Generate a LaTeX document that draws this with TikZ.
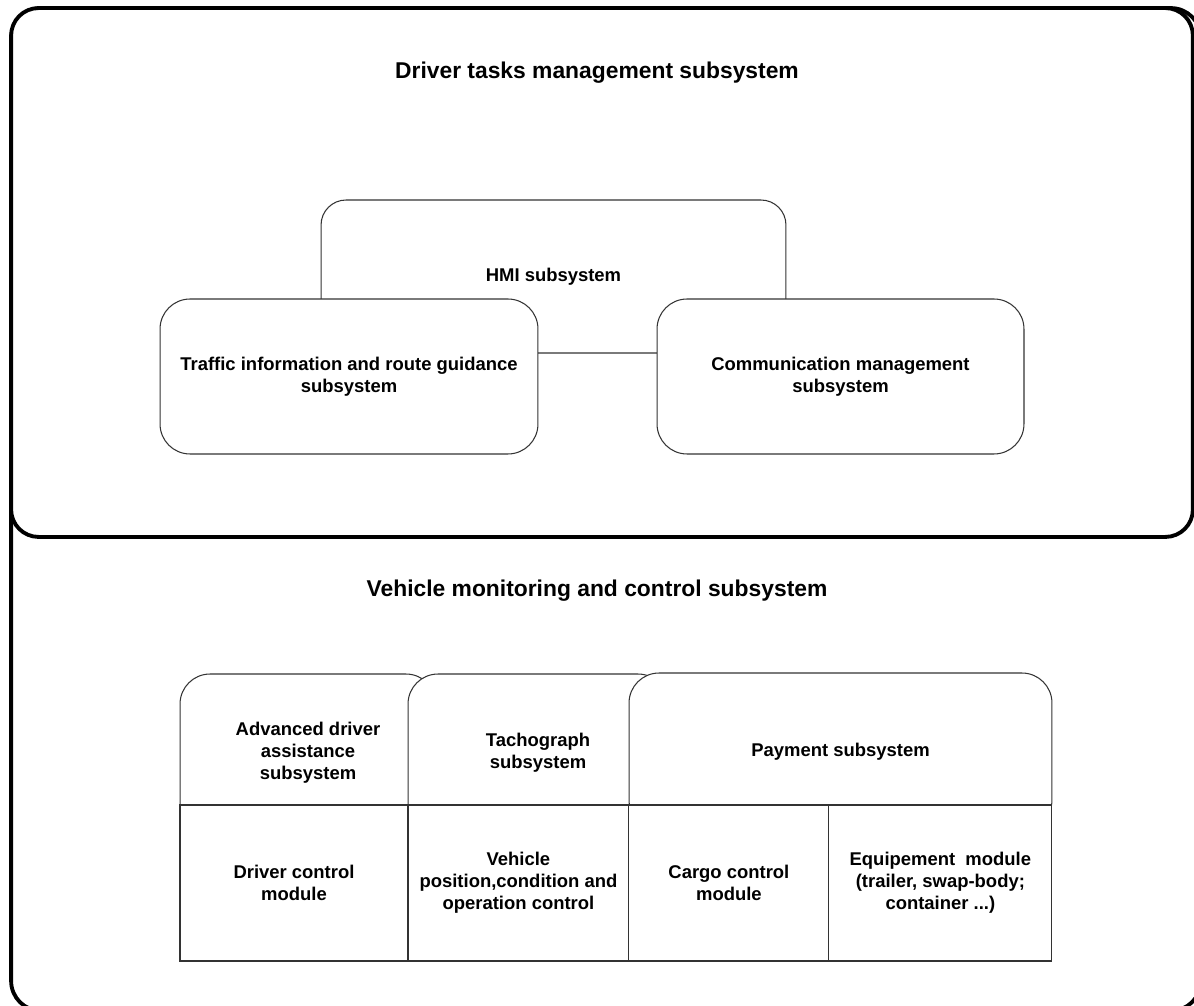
\documentclass[tikz,border=0pt]{standalone}
\usepackage{fontspec}
\setmainfont{Liberation Sans}
\usepackage{tikz}
\usetikzlibrary{positioning}
\definecolor{sysline}{HTML}{333333}

\begin{document}
\begin{tikzpicture}[x=0.02cm,y=-0.02cm,
    frame/.style={draw=black,line width=2.2pt,rounded corners=0.55cm,inner sep=0pt},
    subbox/.style={draw=sysline,line width=0.6pt,fill=white,rounded corners=0.6cm,align=center,inner sep=0pt,font=\bfseries\fontsize{10.5}{12.5}\selectfont},
    modbox/.style={draw=sysline,line width=0.6pt,fill=white,align=center,inner sep=0pt,outer sep=0pt,minimum height=3.12cm,font=\bfseries\fontsize{10.5}{12.5}\selectfont},
    title/.style={font=\bfseries\fontsize{13}{15}\selectfont}]
    \useasboundingbox (0,0) rectangle (1194,1006);
    \clip (0,0) rectangle (1194,1006);
    \node[frame,rounded corners=0.6cm,minimum width=23.8cm,minimum height=20.06cm] (vehicle) at (606,509.5) {};
    \node[frame,fill=white,minimum width=23.64cm,minimum height=10.58cm] (driver) at (602,272.5) {};
    \node[title] (drivertitle) at (597,73) {Driver tasks management subsystem};
    \node[title] (vehicletitle) at (597,591) {Vehicle monitoring and control subsystem};
    % driver tasks
    \node[subbox,rounded corners=0.5cm,minimum width=9.3cm,minimum height=3.06cm] (hmi) at (553.5,276.5) {HMI subsystem};
    \node[subbox,minimum width=7.56cm,minimum height=3.1cm] (traffic) at (349,376.5) {Traffic information and route guidance\\subsystem};
    \node[subbox,minimum width=7.34cm,minimum height=3.1cm] (comm) at (840.5,376.5) {Communication management\\subsystem};
    % vehicle monitoring
    \node[subbox,minimum width=5.12cm,minimum height=3.14cm] (adas) at (308,752.5) {Advanced driver\\assistance\\subsystem};
    \node[subbox,minimum width=5.2cm,minimum height=3.14cm] (tacho) at (538,752.5) {Tachograph\\subsystem};
    \node[subbox,minimum width=8.46cm,minimum height=3.14cm] (payment) at (840.5,751.5) {Payment subsystem};
    \node[modbox,minimum width=4.56cm] (drvctrl) at (294,883) {Driver control\\module};
    \node[modbox,minimum width=4.42cm,right=0pt of drvctrl] (vehpos) {Vehicle\\position,condition and\\operation control};
    \node[modbox,minimum width=4cm,right=0pt of vehpos] (cargo) {Cargo control\\module};
    \node[modbox,minimum width=4.46cm,right=0pt of cargo] (equip) {Equipement~ module\\(trailer, swap-body;\\container ...)};
\end{tikzpicture}
\end{document}
